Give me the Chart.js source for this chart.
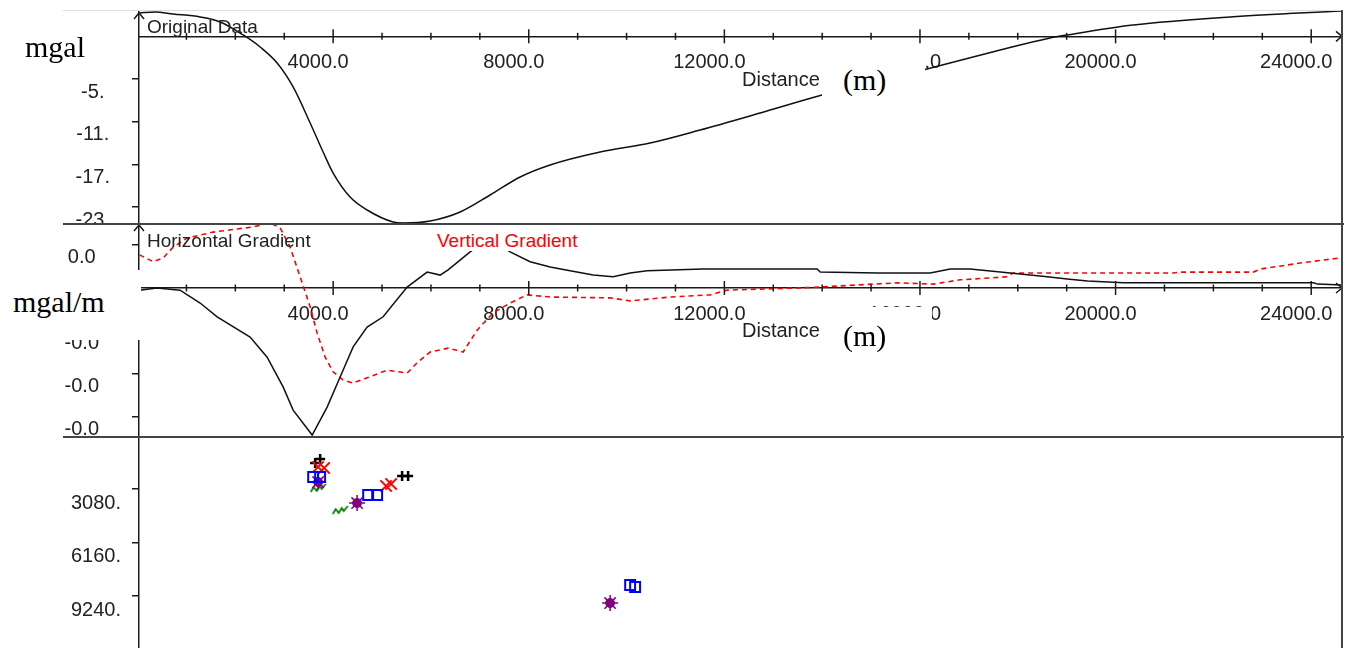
<!DOCTYPE html>
<html>
<head>
<meta charset="utf-8">
<script src="https://cdn.jsdelivr.net/npm/chart.js@4.4.1/dist/chart.umd.min.js"></script>
<style>
  body { margin: 0; background: #fff; }
  #wrap { position: relative; width: 1352px; height: 648px; overflow: hidden; background: #fff; }
  canvas { position: absolute; left: 0; }
  .abs { position: absolute; white-space: nowrap; }
  .sans { font-family: 'Liberation Sans', Arial, sans-serif; font-size: 19px; line-height: 19px; color: #222; }
  .serif { font-family: 'Liberation Serif', 'Times New Roman', serif; font-size: 30px; line-height: 30px; color: #000; }
  .white { position: absolute; background: #fff; }
  .rule { position: absolute; }
</style>
</head>
<body>
<div id="wrap">
  <canvas id="topChart" width="1352" height="224" style="top:0"></canvas>
  <canvas id="midChart" width="1352" height="213" style="top:224px"></canvas>
  <canvas id="botChart" width="1352" height="211" style="top:437px"></canvas>

  <!-- frame -->
  <div class="rule" style="left:63px;top:10px;width:1280px;height:1px;background:#ddd"></div>
  <div class="rule" style="left:63px;top:223px;width:1281px;height:2px;background:#444"></div>
  <div class="rule" style="left:63px;top:436px;width:1281px;height:2px;background:#444"></div>
  <div class="rule" style="left:1341px;top:10px;width:2px;height:638px;background:#444"></div>

  <!-- labels -->
  <div class="abs serif" style="left:25px;top:32px">mgal</div>
  <div class="white" style="left:822px;top:53px;width:103px;height:47px"></div>
  <div class="abs serif" style="left:843px;top:65px">(m)</div>
  <div class="abs sans" style="left:147px;top:17px">Original Data</div>
  <div class="abs sans" style="left:742px;top:69px;font-size:20px;line-height:20px">Distance</div>

  <div class="white" style="left:0;top:270px;width:141px;height:70px"></div>
  <div class="abs serif" style="left:13px;top:287px">mgal/m</div>
  <div class="white" style="left:822px;top:307px;width:110px;height:49px"></div>
  <div class="abs serif" style="left:843px;top:321px">(m)</div>
  <div class="abs sans" style="left:742px;top:320px;font-size:20px;line-height:20px">Distance</div>
  <div class="abs sans" style="left:147px;top:231px">Horizontal Gradient</div>
  <div class="white" style="left:435px;top:228px;width:155px;height:23px"></div>
  <div class="abs sans" style="left:437px;top:231px;color:#ff0000">Vertical Gradient</div>
</div>
<script>
// distance axis ticks (m)
const tickDist = [1000, 2000, 3000, 4000, 5000, 6000, 7000, 8000, 9000, 10000, 11000, 12000,
  13000, 14000, 15000, 16000, 17000, 18000, 19000, 20000, 21000, 22000, 23000, 24000];
const origTicks = [-5, -11, -17, -23];
const gradTicks = [0.001, 0, -0.001, -0.002, -0.003];
const depthTicks = [3080, 6160, 9240];

// Original data (mgal)
const origDist = [40, 360, 728, 1280, 1690, 2160, 2507, 2855, 3182, 3530, 3795, 4000, 4347, 4695,
  5227, 5431, 5983, 6597, 7210, 7824, 8437, 9460, 10482, 11505, 12732, 13999, 14981, 16064,
  17639, 18661, 19009, 20359, 22342, 24632];
const origVal = [4.28, 4.42, 4.14, 3.72, 3.02, 1.19, -0.5, -2.75, -6.12, -11.19, -15.27, -18.22, -21.59, -23.42,
  -25.11, -25.25, -24.97, -23.7, -21.31, -18.78, -17.09, -15.27, -14.0, -12.17, -9.78, -7.25, -5.56, -3.73,
  -0.92, 0.77, 1.19, 2.59, 3.72, 4.56];

// Horizontal gradient (mgal/m)
const hgDist = [40, 400, 870, 1280, 1628, 2302, 2650, 2977, 3182, 3571, 3877, 4143, 4409, 4695, 5022,
  5513, 5922, 6188, 6351, 6801, 7210, 7619, 8028, 8437, 8846, 9317, 9726, 10073, 10421, 11566,
  13898, 13960, 15126, 16210, 16619, 17028, 17846, 18603, 19009, 19427, 20164, 24049, 24131, 24642];
const hgVal = [-0.00005, 0, -0.00005, -0.00035, -0.00067, -0.00114, -0.00161, -0.0023, -0.00284, -0.00342,
  -0.00277, -0.00207, -0.00137, -0.00091, -0.00067, 0.00002, 0.00037, 0.0003, 0.00042, 0.00084,
  0.00116, 0.00084, 0.00061, 0.00049, 0.0004, 0.0003, 0.00026, 0.00035, 0.0004, 0.00044,
  0.00044, 0.00037, 0.00035, 0.00035, 0.00044, 0.00044, 0.00035, 0.00026, 0.00021, 0.00016,
  0.00012, 0.00012, 0.00009, 0.00007];

// Vertical gradient (mgal/m)
const vgDist = [40, 323, 527, 728, 1014, 1546, 2364, 2712, 2916, 3121, 3325, 3530, 3673, 3837, 4000,
  4204, 4409, 4695, 5104, 5513, 5717, 5983, 6351, 6658, 6944, 7271, 7619, 7967, 8437, 9664,
  10073, 10891, 11709, 12057, 13489, 13898, 15534, 16270, 16823, 17784, 17907, 21179, 21322,
  22815, 22958, 23776, 24594];
const vgVal = [0.00077, 0.00061, 0.0007, 0.00095, 0.00116, 0.0013, 0.00142, 0.00151, 0.0014, 0.00095,
  0.00026, -0.00044, -0.00105, -0.00161, -0.00195, -0.00214, -0.00221, -0.00209, -0.00191, -0.00198,
  -0.00174, -0.00149, -0.0014, -0.00149, -0.00098, -0.00058, -0.00035, -0.00016, -0.00021, -0.00023,
  -0.0003, -0.00021, -0.00016, -0.00005, 0, 0.00002, 0.00012, 0.00009, 0.00019, 0.00026,
  0.00035, 0.00035, 0.00037, 0.00037, 0.00044, 0.00058, 0.0007];

// Depth solutions (m)
const crossDist = [3632, 3734, 5410, 5533];
const crossDepth = [1583, 1353, 2331, 2331];
const xDist = [3693, 3816, 5083, 5186];
const xDepth = [1813, 1871, 2907, 2792];
const squareDist = [3591, 3734, 4716, 4900, 10073, 10175];
const squareDepth = [2389, 2389, 3425, 3425, 8606, 8722];
const starDist = [3693, 4490, 9664];
const starDepth = [2677, 3886, 9643];
const zigDist = [3693, 4143];
const zigDepth = [3022, 4289];

const font = { family: "'Liberation Sans', Arial, sans-serif", size: 20 };
const ink = '#1a1a1a';
const pts = (xs, ys) => xs.map((x, i) => ({ x, y: ys[i] }));

function yAxis(ticks, min, max, pad, offset, fmt, reverse) {
    return {
        type: 'linear', position: 'left', min, max, reverse: !!reverse,
        afterBuildTicks: s => { s.ticks = ticks.map(v => ({ value: v })); },
        afterFit: s => { s.width = 139; s.paddingTop = 0; s.paddingBottom = 0; },
        grid: { drawOnChartArea: false, tickLength: 7, color: ink, lineWidth: 1.5 },
        border: { display: true, color: ink, width: 1.5 },
        ticks: { font, color: '#222', padding: pad, labelOffset: offset, crossAlign: 'center', autoSkip: false, callback: fmt }
    };
}

function xAxis(axisY) {
    return {
        type: 'linear', min: 30, max: 24630, position: { y: axisY },
        afterBuildTicks: s => { s.ticks = tickDist.map(v => ({ value: v })); },
        grid: { drawOnChartArea: false, tickLength: 11, color: 'rgba(0,0,0,0)' },
        border: { display: true, color: ink, width: 1.5 },
        ticks: { font, color: '#222', labelOffset: -15, autoSkip: false, maxRotation: 0,
            callback: v => (v % 4000 === 0 ? v.toFixed(1) : '') }
    };
}

// tick marks crossing the distance axis, plus axis arrow heads
const axisMarks = {
    id: 'axisMarks',
    afterDraw(chart, args, opts) {
        const { ctx, chartArea } = chart;
        const xs = chart.scales.x, ys = chart.scales.y;
        ctx.save();
        ctx.strokeStyle = ink;
        ctx.lineWidth = 1.5;
        if (opts.axisY !== undefined) {
            const y0 = ys.getPixelForValue(opts.axisY);
            xs.ticks.forEach(t => {
                const px = xs.getPixelForValue(t.value);
                const h = t.value % 4000 === 0 ? 7 : 3.5;
                ctx.beginPath(); ctx.moveTo(px, y0 - h); ctx.lineTo(px, y0 + h); ctx.stroke();
            });
            ctx.beginPath();
            ctx.moveTo(chartArea.right - 6, y0 - 5); ctx.lineTo(chartArea.right, y0); ctx.lineTo(chartArea.right - 6, y0 + 5);
            ctx.stroke();
        }
        if (opts.arrow) {
            const x0 = chartArea.left, t0 = chartArea.top + 1;
            ctx.beginPath();
            ctx.moveTo(x0 - 5, t0 + 6); ctx.lineTo(x0, t0); ctx.lineTo(x0 + 5, t0 + 6);
            ctx.stroke();
        }
        ctx.restore();
    }
};

function zigzag(color) {
    const c = document.createElement('canvas');
    c.width = 17; c.height = 10;
    const g = c.getContext('2d');
    g.strokeStyle = color; g.lineWidth = 1.8;
    g.beginPath();
    g.moveTo(1, 9); g.lineTo(4, 4); g.lineTo(7, 8); g.lineTo(10, 3); g.lineTo(12, 6); g.lineTo(16, 1);
    g.stroke();
    return c;
}

const base = {
    responsive: false, animation: false, devicePixelRatio: 1,
    plugins: { legend: { display: false }, tooltip: { enabled: false } }
};
const pad = { autoPadding: false, padding: { top: 0, right: 10, bottom: 0, left: 0 } };

// Original Data
new Chart(document.getElementById('topChart'), {
    type: 'line',
    data: {
        datasets: [{
            data: pts(origDist, origVal), borderColor: '#111', borderWidth: 1.5, pointRadius: 0,
            cubicInterpolationMode: 'monotone', clip: false
        }]
    },
    options: {
        ...base,
        layout: { autoPadding: false, padding: { top: 12, right: 10, bottom: 0, left: 0 } },
        scales: {
            x: xAxis(1),
            y: yAxis(origTicks, -25.39, 4.42, 22, 13, v => v + '.')
        },
        plugins: { ...base.plugins, axisMarks: { axisY: 1, arrow: true } }
    },
    plugins: [axisMarks]
});

// Horizontal / Vertical gradient
new Chart(document.getElementById('midChart'), {
    type: 'line',
    data: {
        datasets: [
            { data: pts(hgDist, hgVal), borderColor: '#111', borderWidth: 1.5, pointRadius: 0, tension: 0 },
            { data: pts(vgDist, vgVal), borderColor: '#ff0000', borderWidth: 1.6, borderDash: [5, 4], pointRadius: 0, tension: 0 }
        ]
    },
    options: {
        ...base,
        layout: pad,
        scales: {
            x: xAxis(0),
            y: yAxis(gradTicks, -0.003465, 0.001488, 33, 12, v => v.toFixed(1))
        },
        plugins: { ...base.plugins, axisMarks: { axisY: 0, arrow: true } }
    },
    plugins: [axisMarks]
});

// Depth solutions
const sq = { pointStyle: 'rect', pointRadius: 7, borderColor: '#0000ff', backgroundColor: 'rgba(0,0,0,0)', borderWidth: 2 };
new Chart(document.getElementById('botChart'), {
    type: 'scatter',
    data: {
        datasets: [
            { data: pts(squareDist, squareDepth), ...sq },
            { data: pts(starDist, starDepth), pointStyle: 'circle', pointRadius: 4.5, borderColor: '#800080', backgroundColor: '#800080', borderWidth: 1 },
            { data: pts(starDist, starDepth), pointStyle: 'star', pointRadius: 8, borderColor: '#800080', backgroundColor: '#800080', borderWidth: 1.5 },
            { data: pts(zigDist, zigDepth), pointStyle: zigzag('#008000'), pointRadius: 8 },
            { data: pts(xDist, xDepth), pointStyle: 'crossRot', pointRadius: 8, borderColor: '#ff0000', borderWidth: 2 },
            { data: pts(crossDist, crossDepth), pointStyle: 'cross', pointRadius: 5, borderColor: '#000', borderWidth: 2.5 }
        ]
    },
    options: {
        ...base,
        layout: pad,
        scales: {
            x: { type: 'linear', min: 30, max: 24630, display: false },
            y: yAxis(depthTicks, 86, 12233, 11, 14, v => v + '.', true)
        },
        plugins: { ...base.plugins, axisMarks: {} }
    },
    plugins: [axisMarks]
});
</script>
</body>
</html>
